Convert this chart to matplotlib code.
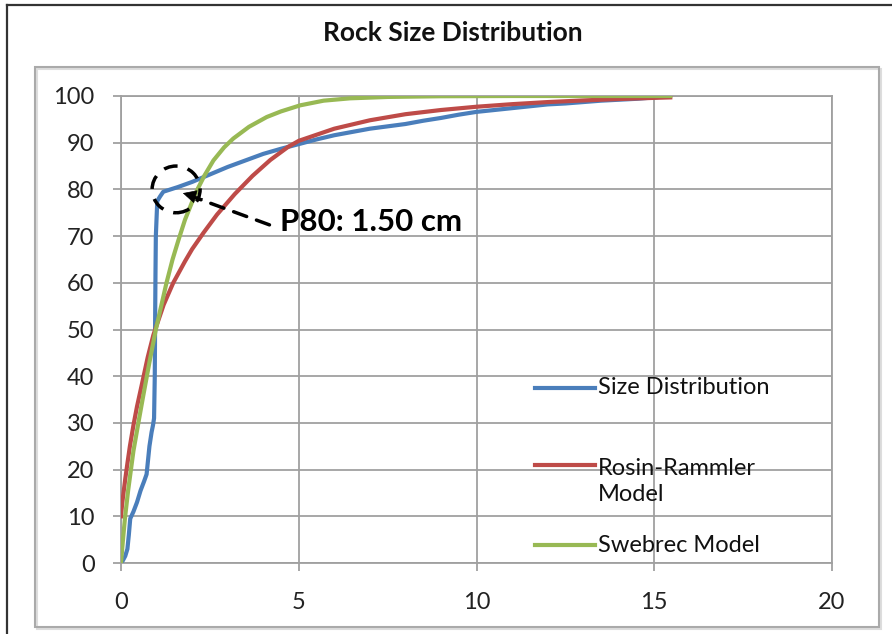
import matplotlib.pyplot as plt
from matplotlib.patches import Ellipse, Rectangle
from matplotlib.lines import Line2D

plt.rcParams['font.family'] = ['Lato', 'DejaVu Sans']

# measured passing curve (cm, % passing)
size_x = [0, 0.05, 0.12, 0.18, 0.22, 0.26, 0.35, 0.45, 0.55, 0.65, 0.72, 0.76,
          0.8, 0.86, 0.9, 0.93, 0.95, 0.96, 0.97, 0.98, 1.02, 1.1, 1.19, 1.6, 2.0,
          2.5, 3.0, 3.5, 4.0, 4.5, 5.0, 5.5, 6.0, 6.5, 7.0, 7.5, 8.0, 8.5, 9.0,
          9.5, 10.0, 10.5, 11.0, 11.5, 12.0, 12.5, 13.0, 13.5, 14.0, 14.5, 15.0, 15.4]
size_y = [0, 0.5, 1.5, 3, 6, 9.5, 11, 13, 15.5, 17.5, 19, 22,
          25, 28, 29.5, 31, 40, 52, 62, 70, 77.5, 78.5, 79.5, 80.5, 81.6,
          83.2, 84.8, 86.2, 87.6, 88.7, 89.7, 90.7, 91.6, 92.3, 93, 93.5, 94, 94.7, 95.3,
          96, 96.6, 97, 97.4, 97.8, 98.2, 98.4, 98.7, 99, 99.2, 99.4, 99.7, 100]

# Rosin-Rammler fit
rr_x = [0, 0.03, 0.07, 0.12, 0.18, 0.25, 0.35, 0.45, 0.58, 0.75, 0.91, 1.2,
        1.47, 1.8, 2.0, 2.32, 2.7, 3.2, 3.7, 4.2, 4.7, 5.0, 6.0, 7.0, 8.0, 9.0,
        10.0, 11.0, 12.0, 13.0, 14.0, 15.0, 15.45]
rr_y = [10, 12.5, 15, 18, 21.3, 25, 29.5, 33.5, 38, 44, 48.8, 55.3,
        60, 64.6, 67.2, 70.7, 74.6, 79, 82.9, 86.3, 89.1, 90.4, 93, 94.8, 96.1, 97,
        97.7, 98.25, 98.7, 99.05, 99.35, 99.6, 99.7]

# Swebrec fit
sw_x = [0, 0.05, 0.11, 0.2, 0.35, 0.5, 0.63, 0.8, 0.98, 1.28, 1.45, 1.61, 1.8,
        2.0, 2.15, 2.35, 2.6, 2.9, 3.16, 3.6, 4.1, 4.5, 5.04, 5.7, 6.44, 7.5,
        9.0, 11.0, 13.0, 15.45]
sw_y = [0, 4.5, 9.5, 15.5, 24, 30.5, 36, 43, 50, 60, 65, 69, 73.5,
        77.3, 80, 83, 86.2, 89, 90.9, 93.4, 95.5, 96.7, 98, 99, 99.5, 99.8,
        99.95, 100, 100, 100]

labels = ['Size Distribution', 'Rosin-Rammler\nModel', 'Swebrec Model']
colors = ['#4a7ebb', '#be4b48', '#98b954']

p80 = 1.50

W, H = 892, 634
fig = plt.figure(figsize=(W / 100, H / 100), dpi=100)

# chart border and plot frame
fig.add_artist(Line2D([7 / W, 7 / W], [0, 1 - 5 / H], color='#333333', lw=1.6))
fig.add_artist(Line2D([7 / W, 1], [1 - 5 / H, 1 - 5 / H], color='#333333', lw=1.6))
fig.add_artist(Rectangle((37 / W, 1 - 629 / H), 844 / W, 560 / H, fill=False,
                         ec='#dddddd', lw=1.5))
fig.add_artist(Rectangle((35 / W, 1 - 627 / H), 844 / W, 560 / H, fill=False,
                         ec='#aaaaaa', lw=1.5))

fig.text(453 / W, 1 - 33 / H, 'Rock Size Distribution', ha='center', va='center',
         fontsize=19, fontweight='bold', color='#111111')

ax = fig.add_axes([121 / W, 1 - 563 / H, 711 / W, 467 / H])

for xs, ys, c in zip([size_x, rr_x, sw_x], [size_y, rr_y, sw_y], colors):
    ax.plot(xs, ys, color=c, lw=3, solid_joinstyle='round', zorder=3)

ax.set_xlim(0, 20)
ax.set_ylim(0, 100)
ax.set_xticks(range(0, 21, 5))
ax.set_yticks(range(0, 101, 10))
ax.grid(True, color='#a0a0a0', lw=1.3)
ax.set_axisbelow(True)
for sp in ax.spines.values():
    sp.set_color('#a0a0a0')
    sp.set_linewidth(1.3)
ax.tick_params(length=6, width=1.3, color='#a0a0a0', labelsize=17, pad=13,
               labelcolor='#222222')
ax.tick_params(axis='x', pad=15)

# legend drawn by hand so the two-line label sits like the original
leg_y = [0.375, 0.175, 0.0385]
line_y = [0.375, 0.21, 0.0385]
for lab, c, ty, ly in zip(labels, colors, leg_y, line_y):
    ax.plot([0.582, 0.667], [ly, ly], color=c, lw=3, transform=ax.transAxes,
            zorder=4, clip_on=False)
    ax.text(0.671, ty, lab, transform=ax.transAxes, va='center', ha='left',
            fontsize=17, color='#111111', linespacing=1.3, zorder=4)

# P80 marker
ax.add_patch(Ellipse((p80 + 0.05, 80), 1.35, 10, fill=False, ec='black',
                     lw=2.5, ls=(0, (4, 3)), zorder=5))
ax.annotate('', xy=(1.74, 79.2), xytext=(4.25, 72.2),
            arrowprops=dict(arrowstyle='-', lw=2.5, ls=(0, (4, 3)), color='black'),
            zorder=5)
ax.annotate('', xy=(1.74, 79.2), xytext=(2.3, 78.0),
            arrowprops=dict(arrowstyle='-|>', lw=0.5, color='black',
                            mutation_scale=22, shrinkA=0, shrinkB=0),
            zorder=5)
ax.text(4.47, 73.0, f'P80: {p80:.2f} cm', fontsize=22.5, fontweight='bold',
        va='center', ha='left', zorder=5)

fig.savefig('out.png', dpi=100)
